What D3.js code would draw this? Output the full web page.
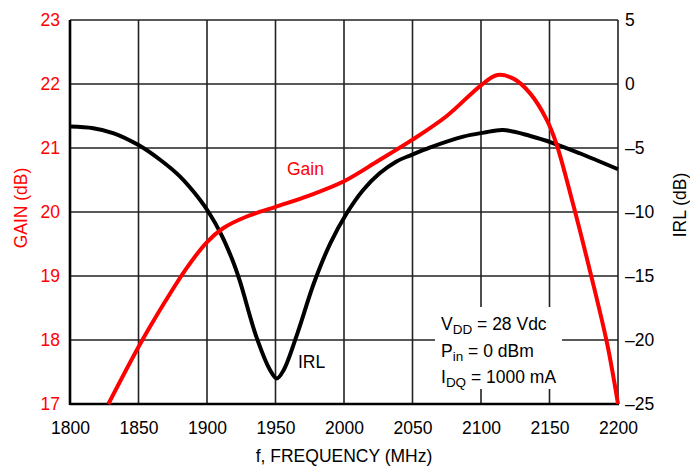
<!DOCTYPE html>
<html>
<head>
<meta charset="utf-8">
<script src="https://cdn.jsdelivr.net/npm/d3@7"></script>
<style>
  html, body { margin: 0; padding: 0; background: #fff; }
  svg { display: block; font-family: "Liberation Sans", Arial, Helvetica, sans-serif; }
</style>
</head>
<body>
<svg id="chart" width="690" height="468"></svg>
<script>
// ---- data ----
const gainFreq = [1828, 1851, 1870, 1885, 1900, 1912, 1929, 1950, 1975, 2000, 2025, 2050, 2075, 2100, 2112, 2124, 2136, 2148, 2155, 2167, 2180, 2192, 2200];
const gainValues = [17.0, 17.93, 18.62, 19.12, 19.53, 19.75, 19.93, 20.08, 20.26, 20.48, 20.8, 21.13, 21.5, 21.98, 22.14, 22.08, 21.85, 21.44, 21.07, 20.14, 19.04, 17.95, 17.0];

const irlFreq = [1800, 1817, 1832, 1850, 1866, 1880, 1895, 1901, 1910, 1918, 1924, 1936, 1946, 1951, 1956, 1966, 1978, 1990, 2002, 2014, 2026, 2038, 2049, 2063, 2087, 2102, 2116, 2136, 2153, 2172, 2200];
const irlValues = [-3.33, -3.46, -3.85, -4.77, -5.94, -7.2, -9.06, -9.98, -11.67, -13.6, -15.4, -19.74, -22.34, -23.0, -22.34, -19.48, -15.57, -12.45, -10.1, -8.28, -6.98, -6.07, -5.55, -4.95, -4.11, -3.8, -3.59, -4.06, -4.63, -5.41, -6.66];

const xTicks = [1800, 1850, 1900, 1950, 2000, 2050, 2100, 2150, 2200];
const gainTicks = [17, 18, 19, 20, 21, 22, 23];
const irlTicks = [-25, -20, -15, -10, -5, 0, 5];

// ---- layout ----
const svg = d3.select("#chart");
const L = 70, R = 618, T = 20, B = 404;
const x = d3.scaleLinear().domain([1800, 2200]).range([L, R]);
const yG = d3.scaleLinear().domain([17, 23]).range([B, T]);
const yI = d3.scaleLinear().domain([-25, 5]).range([B, T]);
const fmtMinus = v => (v < 0 ? "\u2013" + Math.abs(v) : String(v));

// grid
const grid = svg.append("g").attr("stroke", "#222").attr("stroke-width", 1.6);
grid.selectAll("line.v").data(xTicks).join("line")
  .attr("x1", d => x(d)).attr("x2", d => x(d)).attr("y1", T).attr("y2", B);
grid.selectAll("line.h").data(gainTicks).join("line")
  .attr("x1", L).attr("x2", R).attr("y1", d => yG(d)).attr("y2", d => yG(d));

// annotation box background
svg.append("rect").attr("x", 435).attr("y", 307).attr("width", 127).attr("height", 82).attr("fill", "#fff");

// axes lines
svg.append("line").attr("x1", L).attr("x2", L).attr("y1", T).attr("y2", B + 1).attr("stroke", "#000").attr("stroke-width", 2.6);
svg.append("line").attr("x1", L).attr("x2", R + 1).attr("y1", B).attr("y2", B).attr("stroke", "#000").attr("stroke-width", 2.6);

// axes with d3 (labels only)
const axB = svg.append("g").attr("transform", `translate(0,${B})`)
  .call(d3.axisBottom(x).tickValues(xTicks).tickSize(0).tickPadding(18).tickFormat(d3.format("d")));
const axL = svg.append("g").attr("transform", `translate(${L},0)`)
  .call(d3.axisLeft(yG).tickValues(gainTicks).tickSize(0).tickPadding(10).tickFormat(d3.format("d")));
const axR = svg.append("g").attr("transform", `translate(${R},0)`)
  .call(d3.axisRight(yI).tickValues(irlTicks).tickSize(0).tickPadding(7).tickFormat(fmtMinus));
[axB, axL, axR].forEach(a => { a.select(".domain").remove(); a.selectAll("text").attr("font-size", 17.5).attr("font-family", null); });
axL.selectAll("text").attr("fill", "#ff0000");
axR.selectAll("text").attr("fill", "#000");
axB.selectAll("text").attr("fill", "#000");

// curves
const gainData = gainFreq.map((f, i) => [f, gainValues[i]]);
const irlData = irlFreq.map((f, i) => [f, irlValues[i]]);
svg.append("path").datum(irlData)
  .attr("d", d3.line().x(d => x(d[0])).y(d => yI(d[1])).curve(d3.curveCatmullRom.alpha(0.5)))
  .attr("fill", "none").attr("stroke", "#000").attr("stroke-width", 4).attr("stroke-linejoin", "round");
svg.append("path").datum(gainData)
  .attr("d", d3.line().x(d => x(d[0])).y(d => yG(d[1])).curve(d3.curveCatmullRom.alpha(0.5)))
  .attr("fill", "none").attr("stroke", "#ff0000").attr("stroke-width", 4).attr("stroke-linejoin", "round");

// curve labels
svg.append("text").attr("x", 287).attr("y", 175).attr("font-size", 17.5).attr("fill", "#ff0000").text("Gain");
svg.append("text").attr("x", 298).attr("y", 368).attr("font-size", 17.5).attr("fill", "#000").text("IRL");

// annotation
const ann = svg.append("g").attr("font-size", 17.5).attr("fill", "#000");
const t1 = ann.append("text").attr("x", 441).attr("y", 330);
t1.append("tspan").text("V");
t1.append("tspan").attr("font-size", 13.5).attr("dy", 4).text("DD");
t1.append("tspan").attr("dy", -4).text(" = 28 Vdc");
const t2 = ann.append("text").attr("x", 441).attr("y", 357);
t2.append("tspan").text("P");
t2.append("tspan").attr("font-size", 13.5).attr("dy", 4).text("in");
t2.append("tspan").attr("dy", -4).text(" = 0 dBm");
const t3 = ann.append("text").attr("x", 441).attr("y", 383);
t3.append("tspan").text("I");
t3.append("tspan").attr("font-size", 13.5).attr("dy", 4).text("DQ");
t3.append("tspan").attr("dy", -4).text(" = 1000 mA");

// axis titles
svg.append("text").attr("transform", "translate(27,208) rotate(-90)").attr("text-anchor", "middle")
  .attr("font-size", 17.5).attr("fill", "#ff0000").text("GAIN (dB)");
svg.append("text").attr("transform", "translate(686,205) rotate(-90)").attr("text-anchor", "middle")
  .attr("font-size", 17.5).attr("fill", "#000").text("IRL (dB)");
svg.append("text").attr("x", (L + R) / 2).attr("y", 462).attr("text-anchor", "middle")
  .attr("font-size", 17.5).attr("fill", "#000").text("f, FREQUENCY (MHz)");
</script>
</body>
</html>
